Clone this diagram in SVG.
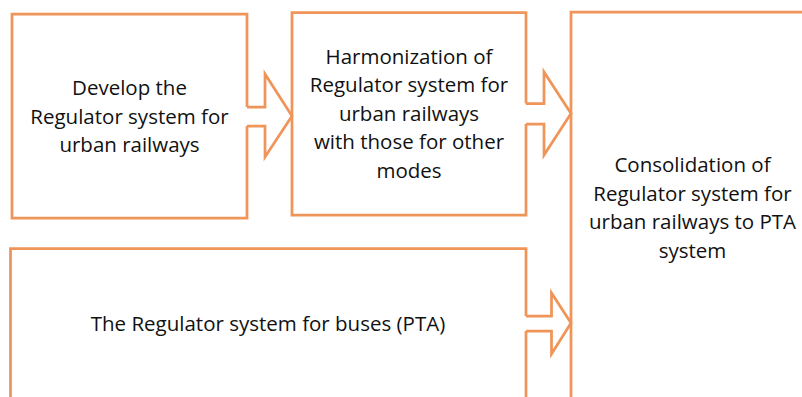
<svg xmlns="http://www.w3.org/2000/svg" width="802" height="397" viewBox="0 0 802 397">
  <style>
    .box { fill: none; stroke: #F0955A; stroke-width: 2.75; stroke-linejoin: miter; }
    .arrow { fill: none; stroke: #F0955A; stroke-width: 2.75; stroke-linejoin: miter; }
    .label { font-family: "Open Sans", "Liberation Sans", sans-serif; font-size: 20.5px; fill: #111; text-anchor: middle; }
  </style>
  <rect width="802" height="397" fill="#fff"/>

  <g id="develop">
    <path class="box" d="M247,107 V14 H12 V218 H247 V126"/>
    <text class="label" x="129.5" y="95">Develop the</text>
    <text class="label" x="129.5" y="123.5">Regulator system for</text>
    <text class="label" x="129.5" y="152">urban railways</text>
  </g>

  <g id="harmonization">
    <path class="box" d="M526,103.5 V12.5 H292 V215 H526 V124"/>
    <text class="label" x="409" y="63.5">Harmonization of</text>
    <text class="label" x="409" y="92">Regulator system for</text>
    <text class="label" x="409" y="120.5">urban railways</text>
    <text class="label" x="409" y="149">with those for other</text>
    <text class="label" x="409" y="177.5">modes</text>
  </g>

  <g id="consolidation">
    <path class="box" d="M571,410 V12 H815"/>
    <text class="label" x="692.5" y="172">Consolidation of</text>
    <text class="label" x="692.5" y="200.5">Regulator system for</text>
    <text class="label" x="692.5" y="229">urban railways to PTA</text>
    <text class="label" x="692.5" y="257.5">system</text>
  </g>

  <g id="buses">
    <path class="box" d="M526,316 V248.5 H10.5 V410 M526,331 V410"/>
    <text class="label" x="268" y="331">The Regulator system for buses (PTA)</text>
  </g>

  <g id="connectors">
    <path class="arrow" d="M247,107 H265 V74 L292,116 L265,157 V126 H247"/>
    <path class="arrow" d="M526,103.5 H544 V72 L571,113.5 L544,155 V124 H526"/>
    <path class="arrow" d="M526,316 H551.5 V293 L571,323 L551.5,354 V331 H526"/>
  </g>
</svg>
